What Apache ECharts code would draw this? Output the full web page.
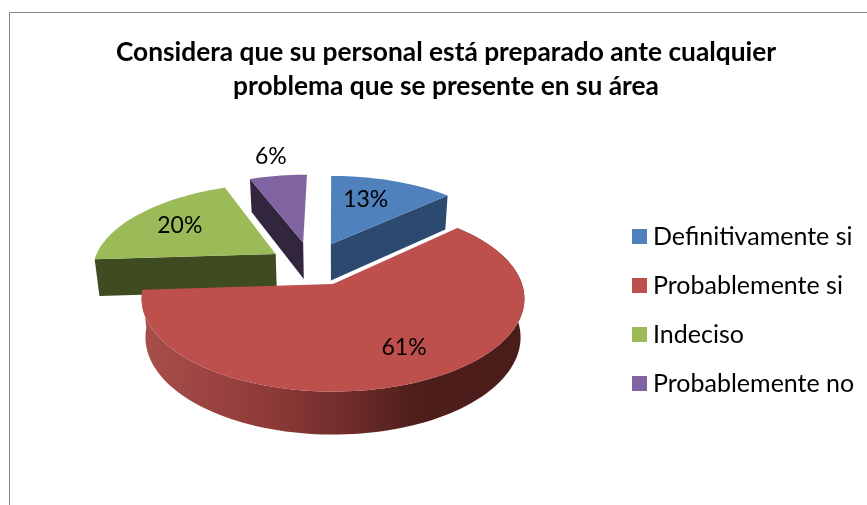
<!DOCTYPE html>
<html><head><meta charset="utf-8">
<style>html,body{margin:0;padding:0;background:#fff}#c{width:867px;height:505px}</style>
<script src="https://cdn.jsdelivr.net/npm/echarts@6/dist/echarts.min.js"></script>
</head><body><div id="c"></div>
<script>
const titleLines = ['Considera que su personal está preparado ante cualquier', 'problema que se presente en su área'];
const categories = ['Definitivamente si', 'Probablemente si', 'Indeciso', 'Probablemente no'];
const values = [13, 61, 20, 6];
const colors = ['#4f81bd', '#bd4f4c', '#9bbb59', '#8064a2'];

// 3D look: projection and per-slice layout (not data)
const wallColors = ['#2c4a70', '#4a1c1a', '#3f4b20', '#32263f'];
const explode = [[-0.012, -0.47], [0, 0], [-0.32, -0.349], [-0.17, -0.49]];
const labelAt = [[19, 0.66], [152, 0.72], [302.4, 0.69], [349.2, 1.35]];
const drawOrder = [2, 4, 1, 0];
const P = { cx: 333, cy: 284, R: 189, Ry: 90.6, k: 0.158, D: 38, s: 0.98 };

const total = values.reduce((a, b) => a + b, 0);
function project(X, Z, bottom) {
  const w = 1 - P.k * Z, s = bottom ? P.s : 1;
  return [P.cx + P.R * X / w * s, P.cy + P.Ry * Z / w * s + (bottom ? P.D / w : 0)];
}
function rimPoint(i, deg, f, bottom) {
  const a = deg * Math.PI / 180;
  return project(explode[i][0] + f * Math.sin(a), explode[i][1] - f * Math.cos(a), bottom);
}
function sliceAngles(i) {
  const before = values.slice(0, i).reduce((a, b) => a + b, 0);
  return [before / total * 360, (before + values[i]) / total * 360];
}
function arc(i, a0, a1, bottom) {
  const pts = [], n = Math.max(2, Math.ceil(Math.abs(a1 - a0) / 2));
  for (let j = 0; j <= n; j++) pts.push(rimPoint(i, a0 + (a1 - a0) * j / n, 1, bottom));
  return pts;
}
function makeRender(i) {
  return function (params, api) {
    const [a0, a1] = sliceAngles(i);
    const value = api.value(0);
    const apex = rimPoint(i, 0, 0, false), apexB = rimPoint(i, 0, 0, true);
    const children = [];
    const wall = pts => children.push({ type: 'polygon', shape: { points: pts }, style: { fill: wallColors[i] } });
    if (i === 1) {
      const top = arc(i, a0, a1, false), bot = arc(i, a0, a1, true).reverse();
      children.push({ type: 'polygon', shape: { points: top.concat(bot) }, style: {
        fill: { type: 'linear', x: 0, y: 0, x2: 1, y2: 0, colorStops: [
          { offset: 0, color: '#a84f4b' }, { offset: 0.3, color: '#923c3a' },
          { offset: 0.52, color: '#722e2c' }, { offset: 0.72, color: '#4e1e1b' }, { offset: 1, color: '#4a1c1a' }] } } });
    } else {
      const edge = i === 0 ? a1 : a0;
      wall([apex, rimPoint(i, edge, 1, false), rimPoint(i, edge, 1, true), apexB]);
    }
    children.push({ type: 'polygon', shape: { points: [apex].concat(arc(i, a0, a1, false)) }, style: { fill: colors[i] } });
    const lp = rimPoint(i, labelAt[i][0], labelAt[i][1], false);
    children.push({ type: 'text', z2: 10, style: { text: value + '%', x: lp[0], y: lp[1], fill: '#000',
      font: '23px Lato', align: 'center', verticalAlign: 'middle' } });
    return { type: 'group', children };
  };
}
const chart = echarts.init(document.getElementById('c'), null, { renderer: 'canvas' });
chart.setOption({
  animation: false,
  backgroundColor: '#fff',
  title: { text: titleLines.join('\n'), left: 441, top: 31, textAlign: 'center',
    textStyle: { fontFamily: 'Lato', fontWeight: 'bold', fontSize: 26.3, lineHeight: 34, color: '#000' } },
  legend: { orient: 'vertical', left: 627, top: 219, itemWidth: 15, itemHeight: 15, itemGap: 24,
    data: categories, icon: 'rect', selectedMode: false,
    textStyle: { fontFamily: 'Lato', fontSize: 25, color: '#000', padding: [0, 0, 0, 1] } },
  graphic: [
    { type: 'polyline', silent: true, shape: { points: [[9.5, 505], [9.5, 12.5], [867, 12.5]] },
      style: { stroke: '#868686', lineWidth: 1, fill: null } }
  ],
  series: categories.map((name, i) => ({
    type: 'custom', name, coordinateSystem: 'none', z: drawOrder[i] + 2, silent: true,
    itemStyle: { color: colors[i] },
    data: [[values[i]]], renderItem: makeRender(i)
  }))
});
</script></body></html>
